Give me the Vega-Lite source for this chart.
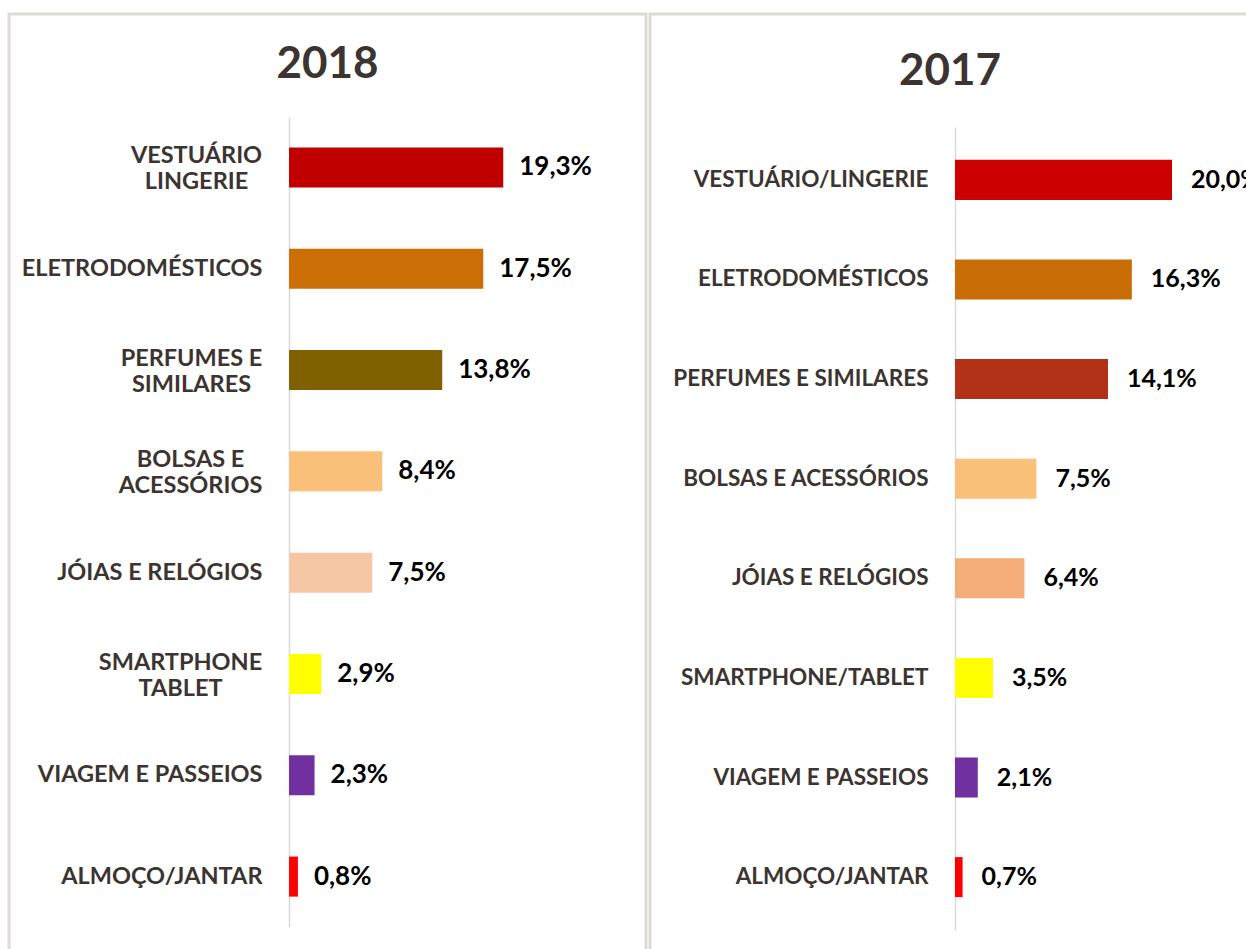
{
  "$schema": "https://vega.github.io/schema/vega-lite/v6.json",
  "padding": {"left": 7, "top": 12, "right": 0, "bottom": 0},
  "background": "white",
  "config": {
    "locale": {"number": {"decimal": ",", "thousands": ".", "grouping": [3], "currency": ["R$", ""]}},
    "view": {"stroke": "#DEDAD6", "strokeWidth": 3},
    "font": "Lato"
  },
  "datasets": {
    "d2018": [
      {"categoria": "VESTUÁRIO\nLINGERIE", "valor": 0.193},
      {"categoria": "ELETRODOMÉSTICOS", "valor": 0.175},
      {"categoria": "PERFUMES E\nSIMILARES", "valor": 0.138},
      {"categoria": "BOLSAS E\nACESSÓRIOS", "valor": 0.084},
      {"categoria": "JÓIAS E RELÓGIOS", "valor": 0.075},
      {"categoria": "SMARTPHONE\nTABLET", "valor": 0.029},
      {"categoria": "VIAGEM E PASSEIOS", "valor": 0.023},
      {"categoria": "ALMOÇO/JANTAR", "valor": 0.008}
    ],
    "d2017": [
      {"categoria": "VESTUÁRIO/LINGERIE", "valor": 0.200},
      {"categoria": "ELETRODOMÉSTICOS", "valor": 0.163},
      {"categoria": "PERFUMES E SIMILARES", "valor": 0.141},
      {"categoria": "BOLSAS E ACESSÓRIOS", "valor": 0.075},
      {"categoria": "JÓIAS E RELÓGIOS", "valor": 0.064},
      {"categoria": "SMARTPHONE/TABLET", "valor": 0.035},
      {"categoria": "VIAGEM E PASSEIOS", "valor": 0.021},
      {"categoria": "ALMOÇO/JANTAR", "valor": 0.007}
    ]
  },
  "hconcat": [
    {
      "width": 637,
      "height": 940,
      "data": {"name": "d2018"},
      "title": {"text": "2018", "offset": -73, "fontSize": 44, "font": "Lato", "fontWeight": "bold", "color": "#3B3431", "anchor": "middle"},
      "encoding": {
        "y": {
          "field": "categoria", "type": "nominal", "sort": null,
          "scale": {"range": [103, 913], "paddingInner": 0.605, "paddingOuter": 0.3},
          "axis": {
            "title": null, "orient": "left", "offset": -280, "ticks": false, "tickSize": 0,
            "labelPadding": {"condition": [
              {"test": "datum.value == 'VESTUÁRIO\\nLINGERIE'", "value": 93},
              {"test": "datum.value == 'PERFUMES E\\nSIMILARES'", "value": 98},
              {"test": "datum.value == 'BOLSAS E\\nACESSÓRIOS'", "value": 99},
              {"test": "datum.value == 'SMARTPHONE\\nTABLET'", "value": 109}
            ], "value": 27},
            "labelAlign": {"condition": {"test": "indexof(datum.value, '\\n') >= 0", "value": "center"}, "value": "right"},
            "labelOffset": {"condition": {"test": "indexof(datum.value, '\\n') >= 0", "value": -11}, "value": 0},
            "domainColor": "#D9D9D9", "domainWidth": 1.5, "labelFont": "Lato", "labelFontSize": 23.5, "labelFontWeight": "bold", "labelColor": "#3B3431", "labelLimit": 400, "labelLineHeight": 26, "labelExpr": "split(datum.label, '\\n')", "grid": false}
        },
        "x": {"field": "valor", "type": "quantitative", "scale": {"domain": [-0.2523, 0.3216], "nice": false, "zero": false}, "axis": null}
      },
      "layer": [
        {
          "mark": {"type": "bar"},
          "encoding": {
            "x2": {"datum": 0},
            "color": {"field": "categoria", "type": "nominal", "legend": null,
              "scale": {"domain": ["VESTUÁRIO\nLINGERIE", "ELETRODOMÉSTICOS", "PERFUMES E\nSIMILARES", "BOLSAS E\nACESSÓRIOS", "JÓIAS E RELÓGIOS", "SMARTPHONE\nTABLET", "VIAGEM E PASSEIOS", "ALMOÇO/JANTAR"],
                        "range": ["#C00000", "#CC6E06", "#806000", "#FAC07A", "#F6C7A5", "#FFFF00", "#7030A0", "#FF0000"]}}
          }
        },
        {
          "mark": {"type": "text", "align": "left", "baseline": "middle", "dx": 16, "fontSize": 26, "fontWeight": "bold", "font": "Lato", "color": "#000000"},
          "encoding": {"text": {"field": "valor", "type": "quantitative", "format": ".1%"}}
        }
      ]
    },
    {
      "width": 600,
      "height": 940,
      "data": {"name": "d2017"},
      "title": {"text": "2017", "offset": -80, "fontSize": 44, "font": "Lato", "fontWeight": "bold", "color": "#3B3431", "anchor": "middle"},
      "encoding": {
        "y": {
          "field": "categoria", "type": "nominal", "sort": null,
          "scale": {"range": [113, 916], "paddingInner": 0.598, "paddingOuter": 0.33},
          "axis": {"title": null, "orient": "left", "offset": -305, "ticks": false, "tickSize": 0, "labelPadding": 27, "domainColor": "#D9D9D9", "domainWidth": 1.5, "labelFont": "Lato", "labelFontSize": 22.5, "labelFontWeight": "bold", "labelColor": "#3B3431", "labelLimit": 400, "grid": false}
        },
        "x": {"field": "valor", "type": "quantitative", "scale": {"domain": [-0.28111, 0.27189], "nice": false, "zero": false}, "axis": null}
      },
      "layer": [
        {
          "mark": {"type": "bar"},
          "encoding": {
            "x2": {"datum": 0},
            "color": {"field": "categoria", "type": "nominal", "legend": null,
              "scale": {"domain": ["VESTUÁRIO/LINGERIE", "ELETRODOMÉSTICOS", "PERFUMES E SIMILARES", "BOLSAS E ACESSÓRIOS", "JÓIAS E RELÓGIOS", "SMARTPHONE/TABLET", "VIAGEM E PASSEIOS", "ALMOÇO/JANTAR"],
                        "range": ["#CC0000", "#C96E06", "#B23217", "#FAC07A", "#F4AD78", "#FFFF00", "#7030A0", "#FF0000"]}}
          }
        },
        {
          "mark": {"type": "text", "align": "left", "baseline": "middle", "dx": 19, "fontSize": 25, "fontWeight": "bold", "font": "Lato", "color": "#000000"},
          "encoding": {"text": {"field": "valor", "type": "quantitative", "format": ".1%"}}
        }
      ]
    }
  ],
  "spacing": 0,
  "resolve": {"scale": {"x": "independent", "y": "independent", "color": "independent"}}
}
